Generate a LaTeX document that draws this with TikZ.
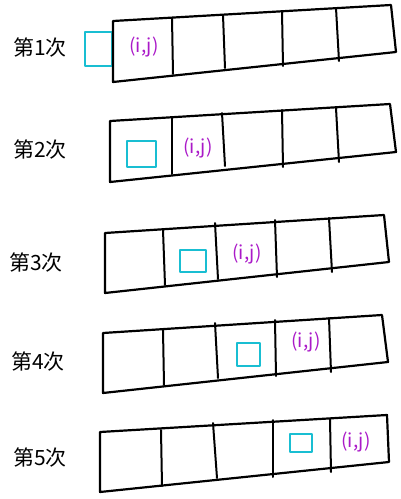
\documentclass[tikz,border=0pt]{standalone}
\usepackage{fontspec}
\newfontfamily\cjk{Noto Sans CJK SC}
\usepackage{tikz}
\definecolor{inkpurple}{RGB}{170,25,200}
\definecolor{inkcyan}{RGB}{25,190,210}
\tikzset{
    strip/.style={
           draw=black, line width=2.2pt,
           line join=round, line cap=round,
           },
}
\tikzset{
    wall/.style={
           draw=black, line width=2pt,
           line cap=round,
           },
}
\tikzset{
    cyanbox/.style={
           draw=inkcyan, line width=2.2pt,
           line join=round,
           },
}
\tikzset{
    cellmark/.style={
           text=inkpurple, inner sep=0pt,
           font=\cjk\fontsize{19}{19}\selectfont,
           },
}
\tikzset{
    turn/.style={
           text=black, inner sep=0pt,
           font=\cjk\fontsize{21}{21}\selectfont,
           },
}

\begin{document}
\begin{tikzpicture}[x=1pt,y=-1pt]
\useasboundingbox (0,0) rectangle (401,499);
% 第1次
\node[turn] (lab1) at (40,48) {第1次};
\draw[cyanbox] (85,32) rectangle (112,66);
\draw[strip] (113,21) -- (391,5) -- (396,52) -- (113,82) -- cycle;
\draw[wall] (172,18) -- (173,74);
\draw[wall] (223,15) -- (225,68);
\draw[wall] (282,11) -- (283,66);
\draw[wall] (336,8) -- (339,61);
\node[cellmark] (ij1) at (144,47) {(i,j)};
% 第2次
\node[turn] (lab2) at (40,150) {第2次};
\draw[strip] (110,121) -- (390,104) -- (396,152) -- (110,182) -- cycle;
\draw[wall] (172,118) -- (172,174);
\draw[wall] (222,113) -- (225,166);
\draw[wall] (282,110) -- (283,167);
\draw[wall] (336,108) -- (339,162);
\draw[cyanbox] (127,141) rectangle (156,167);
\node[cellmark] (ij2) at (198,148) {(i,j)};
% 第3次
\node[turn] (lab3) at (36,263) {第3次};
\draw[strip] (105,233) -- (384,215) -- (389,262) -- (105,293) -- cycle;
\draw[wall] (163,230) -- (165,285);
\draw[wall] (215,223) -- (218,279);
\draw[wall] (275,220) -- (277,277);
\draw[wall] (329,218) -- (332,272);
\draw[cyanbox] (180,250) rectangle (206,272);
\node[cellmark] (ij3) at (247,254) {(i,j)};
% 第4次
\node[turn] (lab4) at (38,362) {第4次};
\draw[strip] (103,333) -- (382,315) -- (388,362) -- (103,393) -- cycle;
\draw[wall] (163,330) -- (164,385);
\draw[wall] (215,323) -- (218,378);
\draw[wall] (275,320) -- (276,376);
\draw[wall] (329,318) -- (331,372);
\draw[cyanbox] (237,343) rectangle (260,366);
\node[cellmark] (ij4) at (306,342) {(i,j)};
% 第5次
\node[turn] (lab5) at (40,458) {第5次};
\draw[strip] (100,432) -- (387,415) -- (389,462) -- (100,492) -- cycle;
\draw[wall] (161,430) -- (162,486);
\draw[wall] (213,423) -- (217,478);
\draw[wall] (273,420) -- (273,477);
\draw[wall] (330,419) -- (331,472);
\draw[cyanbox] (290,434) rectangle (312,452);
\node[cellmark] (ij5) at (356,442) {(i,j)};
\end{tikzpicture}
\end{document}
